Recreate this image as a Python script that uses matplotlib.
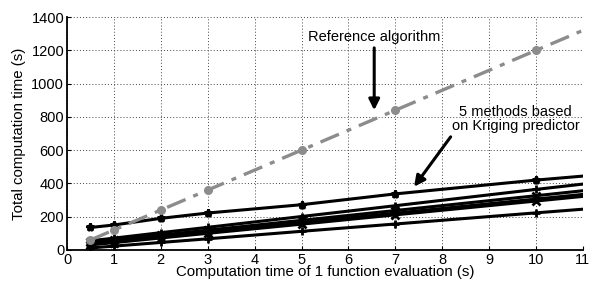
import numpy as np
import matplotlib
matplotlib.use('Agg')
import matplotlib.pyplot as plt

plt.rcParams['font.family'] = ['Liberation Sans', 'DejaVu Sans']

# Computation time of one function evaluation (s)
eval_time = [0.5, 1, 2, 3, 5, 7, 10, 11]

# Reference algorithm (total time, s)
reference = [60, 120, 240, 360, 600, 840, 1200, 1320]

# Methods based on Kriging predictor (total time, s)
kriging_1 = [135, 150, 190, 222, 272, 337, 420, 444]
kriging_2 = [55, 71, 104, 136, 201, 266, 364, 396]
kriging_3 = [45, 60, 89, 119, 178, 237, 326, 356]
kriging_4 = [38, 52, 80, 109, 165, 221, 306, 334]
kriging_5 = [30, 44, 72, 100, 155, 211, 294, 322]
kriging_6 = [12, 23, 45, 67, 112, 156, 223, 245]

x_ticks = list(range(0, 12))
y_ticks = list(range(0, 1401, 200))

fig = plt.figure(figsize=(5.93, 2.85), dpi=100)
ax = fig.add_axes([0.113, 0.123, 0.870, 0.817])

# markers only at the measured points, not at the line end
mk = list(range(len(eval_time) - 1))

kriging = [kriging_1, kriging_2, kriging_3, kriging_4, kriging_5, kriging_6]
markers = ['*', '+', 'x', '+', 'x', '+']
for vals, m in zip(kriging, markers):
    ax.plot(eval_time, vals, color='black', lw=2.2, marker=m, markevery=mk,
            markersize=6, markeredgewidth=2, zorder=3)

ax.plot(eval_time, reference, color='#8c8c8c', lw=2.4, ls='-.',
        marker='o', markevery=mk, markersize=5.5, markerfacecolor='#8c8c8c',
        markeredgecolor='#8c8c8c', dashes=(6, 2.5, 1.5, 2.5), zorder=4)

ax.set_xlim(0, 11)
ax.set_ylim(0, 1400)
ax.set_xticks(x_ticks)
ax.set_yticks(y_ticks)
ax.tick_params(direction='in', length=3, labelsize=10.5, top=False, right=False,
               pad=2)
ax.grid(True, ls=(0, (1, 2.2)), color='#444444', lw=0.7)
ax.spines['top'].set_visible(False)
ax.spines['right'].set_visible(False)
ax.spines['left'].set_linewidth(1.3)
ax.spines['bottom'].set_linewidth(1.3)

ax.set_xlabel('Computation time of 1 function evaluation (s)', fontsize=10.8, labelpad=-1)
ax.set_ylabel('Total computation time (s)', fontsize=10.8, labelpad=4)

arrow = dict(arrowstyle='-|>', lw=2.2, color='black', mutation_scale=16,
             shrinkA=0, shrinkB=0)
ax.text(6.55, 1282, 'Reference algorithm', ha='center', va='center', fontsize=10.5)
ax.annotate('', xy=(6.55, 840), xytext=(6.55, 1215), arrowprops=arrow)

ax.text(9.57, 790, '5 methods based\non Kriging predictor', ha='center',
        va='center', fontsize=10.5, linespacing=1.0)
ax.annotate('', xy=(7.4, 380), xytext=(8.18, 680), arrowprops=arrow)

fig.savefig('out.png', dpi=100)
